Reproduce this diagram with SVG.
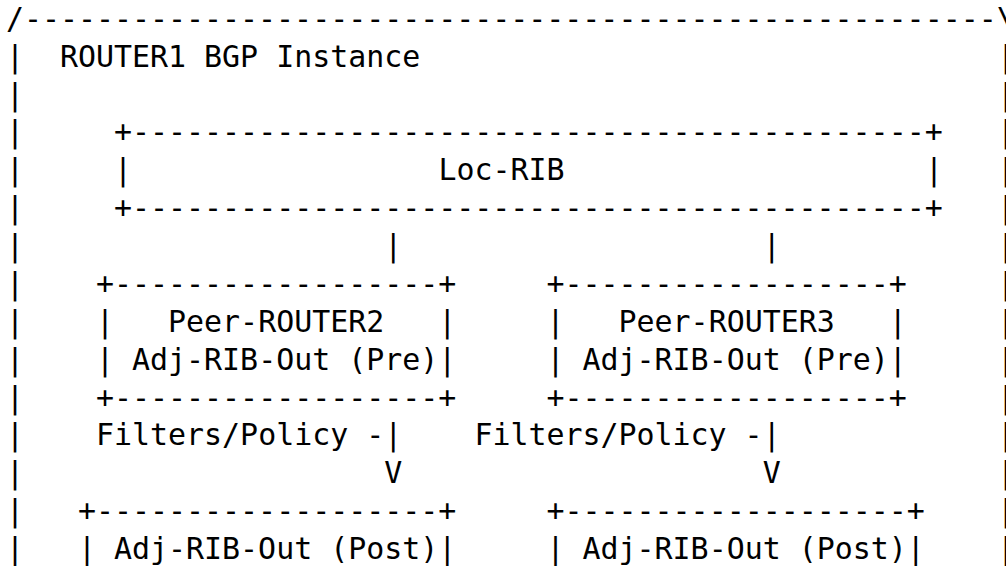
<svg xmlns="http://www.w3.org/2000/svg" width="1006" height="566" viewBox="0 0 1006 566" xml:space="preserve">
<style>
text { font-family: "DejaVu Sans Mono", "Liberation Mono", monospace; font-size: 29.93px; fill: #000; white-space: pre; }
</style>
<rect width="1006" height="566" fill="#fff"/>
<g id="router1-bgp-instance">
<text x="5.9" y="28.8">/------------------------------------------------------\</text>
<text x="5.9" y="66.67">|</text><text x="59.96" y="66.67">ROUTER1 BGP Instance</text><text x="996.98" y="66.67">|</text>
<text x="5.9" y="104.54">|</text><text x="996.98" y="104.54">|</text>
<text x="5.9" y="142.41">|</text><text x="996.98" y="142.41">|</text>
<text x="5.9" y="180.28">|</text><text x="996.98" y="180.28">|</text>
<text x="5.9" y="218.15">|</text><text x="996.98" y="218.15">|</text>
<text x="5.9" y="256.02">|</text><text x="996.98" y="256.02">|</text>
<text x="5.9" y="293.89">|</text><text x="996.98" y="293.89">|</text>
<text x="5.9" y="331.76">|</text><text x="996.98" y="331.76">|</text>
<text x="5.9" y="369.63">|</text><text x="996.98" y="369.63">|</text>
<text x="5.9" y="407.5">|</text><text x="996.98" y="407.5">|</text>
<text x="5.9" y="445.37">|</text><text x="996.98" y="445.37">|</text>
<text x="5.9" y="483.24">|</text><text x="996.98" y="483.24">|</text>
<text x="5.9" y="521.11">|</text><text x="996.98" y="521.11">|</text>
<text x="5.9" y="558.98">|</text><text x="996.98" y="558.98">|</text>
</g>
<g id="loc-rib">
<text x="114.02" y="142.41">+--------------------------------------------+</text>
<text x="114.02" y="180.28">|</text><text x="438.38" y="180.28">Loc-RIB</text><text x="924.92" y="180.28">|</text>
<text x="114.02" y="218.15">+--------------------------------------------+</text>
</g>
<g id="peer-router2-adj-rib-out-pre">
<text x="96" y="293.89">+------------------+</text>
<text x="96" y="331.76">|   Peer-ROUTER2   |</text>
<text x="96" y="369.63">| Adj-RIB-Out (Pre)|</text>
<text x="96" y="407.5">+------------------+</text>
</g>
<g id="peer-router3-adj-rib-out-pre">
<text x="546.5" y="293.89">+------------------+</text>
<text x="546.5" y="331.76">|   Peer-ROUTER3   |</text>
<text x="546.5" y="369.63">| Adj-RIB-Out (Pre)|</text>
<text x="546.5" y="407.5">+------------------+</text>
</g>
<g id="peer-router2-adj-rib-out-post">
<text x="77.98" y="521.11">+-------------------+</text>
<text x="77.98" y="558.98">| Adj-RIB-Out (Post)|</text>
</g>
<g id="peer-router3-adj-rib-out-post">
<text x="546.5" y="521.11">+-------------------+</text>
<text x="546.5" y="558.98">| Adj-RIB-Out (Post)|</text>
</g>
<g id="connectors">
<text x="384.32" y="256.02">|</text>
<text x="762.74" y="256.02">|</text>
<text x="96" y="445.37">Filters/Policy -|</text>
<text x="474.42" y="445.37">Filters/Policy -|</text>
<text x="384.32" y="483.24">V</text>
<text x="762.74" y="483.24">V</text>
</g>
</svg>
